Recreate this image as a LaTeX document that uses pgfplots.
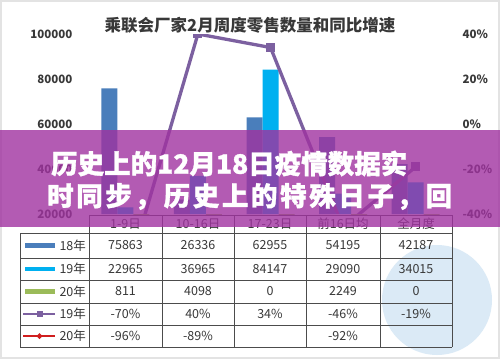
\documentclass[border=0pt]{standalone}
\usepackage{fontspec}
\setmainfont{Noto Sans CJK SC}
\newfontfamily\banfont[BoldFeatures={FakeBold=1.2}]{Noto Sans CJK SC}
\usepackage{pgfplots}
\pgfplotsset{compat=1.18}
\definecolor{cA}{RGB}{74,126,187}
\definecolor{cB}{RGB}{0,176,240}
\definecolor{cC}{RGB}{155,187,89}
\definecolor{cL}{RGB}{124,96,160}
\definecolor{cR}{RGB}{208,30,30}
\definecolor{band}{RGB}{160,50,160}
\definecolor{txt}{RGB}{56,56,56}
\definecolor{wm}{RGB}{196,220,240}
\begin{document}
\begin{tikzpicture}[x=1pt,y=1pt]
\fill[white] (0,0) rectangle (500,359);
\draw[gray!22, line width=2pt] (1,1) rectangle (499,358);
% watermark
\fill[wm, opacity=0.6] (437,59) circle (55);
% title
\node[font=\bfseries\fontsize{16.5}{18}\selectfont, text=txt] at (250,334) {乘联会厂家2月周度零售数量和同比增速};
\begin{axis}[at={(89pt,145pt)}, anchor=south west, scale only axis,
  width=363pt, height=180pt,
  xmin=-0.5, xmax=4.5, ymin=20000, ymax=100000,
  xtick=\empty, ytick={20000,40000,60000,80000,100000},
  yticklabels={20000,40000,60000,80000,100000},
  scaled y ticks=false,
  axis line style={draw=none}, major tick length=0pt,
  yticklabel shift=13pt,
  yticklabel style={font=\bfseries\fontsize{11.5}{12}\selectfont, text=txt},
  ybar=0pt, bar width=16pt]
\addplot[fill=cA, draw=none] coordinates {(0,75863) (1,26336) (2,62955) (3,54195) (4,42187)};
\addplot[fill=cB, draw=none] coordinates {(0,22965) (1,36965) (2,84147) (3,29090) (4,34015)};
\addplot[fill=cC, draw=none] coordinates {(0,811) (1,4098) (2,0) (3,2249) (4,0)};
\end{axis}
\begin{axis}[at={(89pt,145pt)}, anchor=south west, scale only axis,
  width=363pt, height=180pt,
  xmin=-0.5, xmax=4.5, ymin=-40, ymax=40,
  xtick=\empty, ytick={-40,-20,0,20,40},
  yticklabels={-40\%,-20\%,0\%,20\%,40\%},
  scaled y ticks=false,
  axis y line*=right, axis x line=none,
  axis line style={draw=none}, major tick length=0pt,
  yticklabel shift=7pt,
  yticklabel style={font=\bfseries\fontsize{11.5}{12}\selectfont, text=txt},
  clip marker paths=true,
  unbounded coords=jump]
\addplot[cL, line width=3.3pt, mark=square*, mark size=2.8pt] coordinates {(0,-70) (1,40) (2,34) (3,-46) (4,-19)};
\addplot[cR, line width=3pt, mark=diamond*, mark size=3pt] coordinates {(0,-96) (1,-89) (2,nan) (3,-92)};
\end{axis}
% table
\begin{scope}[draw=gray!60!black, line width=0.8pt]
\draw (89,144) -- (452,144);
\foreach \y in {126,101,79,56,34,12} \draw (20,\y) -- (452,\y);
\draw (20,126) -- (20,12);
\foreach \x in {89,162,234,306,380,452} \draw (\x,144) -- (\x,12);
\end{scope}
\begin{scope}[every node/.style={font=\fontsize{12.5}{13}\selectfont, text=txt}]
\node at (125.5,135) {1-9日};
\node at (198,135) {10-16日};
\node at (270,135) {17-23日};
\node at (343,135) {前16日均};
\node at (416,135) {全月度};
\node at (125.5,113.5) {75863}; \node at (198,113.5) {26336}; \node at (270,113.5) {62955}; \node at (343,113.5) {54195}; \node at (416,113.5) {42187};
\node at (125.5,90) {22965}; \node at (198,90) {36965}; \node at (270,90) {84147}; \node at (343,90) {29090}; \node at (416,90) {34015};
\node at (125.5,67.5) {811}; \node at (198,67.5) {4098}; \node at (270,67.5) {0}; \node at (343,67.5) {2249}; \node at (416,67.5) {0};
\node at (125.5,45) {-70\%}; \node at (198,45) {40\%}; \node at (270,45) {34\%}; \node at (343,45) {-46\%}; \node at (416,45) {-19\%};
\node at (125.5,23) {-96\%}; \node at (198,23) {-89\%}; \node at (343,23) {-92\%};
\fill[cA] (25,111.5) rectangle (55,116);
\fill[cB] (25,88) rectangle (55,92.5);
\fill[cC] (25,65.5) rectangle (55,70);
\draw[cL, line width=2.5pt] (23,45) -- (55,45);
\fill[cL] (36.5,42) rectangle (42.5,48);
\draw[cR, line width=2pt] (23,23) -- (55,23);
\fill[cR] (39.5,26) -- (42.5,23) -- (39.5,20) -- (36.5,23) -- cycle;
\node[anchor=west] at (56,113.5) {18年};
\node[anchor=west] at (56,90) {19年};
\node[anchor=west] at (56,67.5) {20年};
\node[anchor=west] at (56,45) {19年};
\node[anchor=west] at (56,23) {20年};
\end{scope}
% banner
\fill[band, opacity=0.8] (0,132) rectangle (500,229);
\node[text=white, font=\banfont\bfseries\fontsize{26.5}{28}\selectfont, anchor=west, inner sep=0] at (51,195.5) {历史上的12月18日疫情数据实};
\node[text=white, font=\banfont\bfseries\fontsize{26.5}{28}\selectfont, anchor=west, inner sep=0] at (47,162.5) {\makebox[405pt][s]{时\hfill 同\hfill 步\hfill ，\hfill 历\hfill 史\hfill 上\hfill 的\hfill 特\hfill 殊\hfill 日\hfill 子\hfill ，\hfill 回}};
\end{tikzpicture}
\end{document}
